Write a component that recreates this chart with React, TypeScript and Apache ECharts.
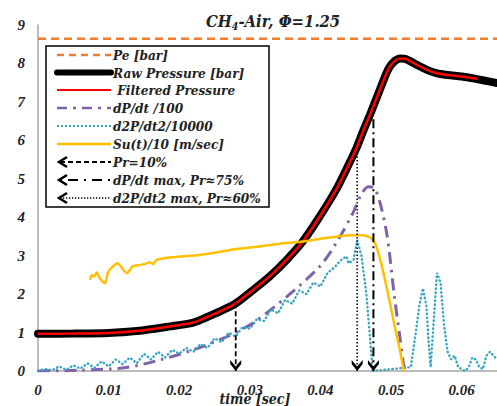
import React, { useEffect, useRef } from "react";
import * as echarts from "echarts";

// ---------- data ----------
const peTime = [0, 0.065];
const peValues = [8.64, 8.64];

const rawTime = [0, 0.005, 0.01, 0.014, 0.0187, 0.022, 0.0234, 0.026, 0.028, 0.0304, 0.0328, 0.0352, 0.0375, 0.0399, 0.0422, 0.0441, 0.0451, 0.046, 0.0472, 0.0488, 0.0497, 0.0505, 0.0513, 0.052, 0.0527, 0.0536, 0.055, 0.0564, 0.058, 0.06, 0.062, 0.065];
const rawValues = [0.97, 0.975, 0.99, 1.04, 1.16, 1.26, 1.36, 1.57, 1.76, 2.1, 2.46, 2.89, 3.37, 4.02, 4.71, 5.41, 5.8, 6.22, 6.75, 7.5, 7.88, 8.06, 8.13, 8.12, 8.06, 7.97, 7.84, 7.75, 7.7, 7.66, 7.6, 7.49];

const filteredTime = [0, 0.005, 0.01, 0.014, 0.0187, 0.022, 0.0234, 0.026, 0.028, 0.0304, 0.0328, 0.0352, 0.0375, 0.0399, 0.0422, 0.0441, 0.0451, 0.046, 0.0472, 0.0488, 0.0497, 0.0505, 0.0513, 0.052, 0.0527, 0.0536, 0.055, 0.0564, 0.058, 0.06, 0.0622];
const filteredValues = [0.97, 0.975, 0.99, 1.04, 1.16, 1.26, 1.36, 1.57, 1.76, 2.1, 2.46, 2.89, 3.37, 4.02, 4.71, 5.41, 5.8, 6.22, 6.75, 7.5, 7.88, 8.06, 8.13, 8.12, 8.06, 7.97, 7.84, 7.75, 7.7, 7.66, 7.6];

const dpdtTime = [0, 0.006, 0.0125, 0.0173, 0.022, 0.0267, 0.0281, 0.0304, 0.0352, 0.0399, 0.0422, 0.0446, 0.0458, 0.0468, 0.0476, 0.0484, 0.0493, 0.0498, 0.0505, 0.0512, 0.0517, 0.052];
const dpdtValues = [0, 0.02, 0.09, 0.29, 0.55, 0.89, 1.02, 1.24, 1.93, 2.72, 3.32, 4.11, 4.6, 4.79, 4.76, 4.4, 3.67, 3.02, 1.9, 0.95, 0.25, 0];

const d2pTime = [0, 0.001, 0.002, 0.003, 0.004, 0.005, 0.006, 0.007, 0.008, 0.009, 0.01, 0.011, 0.012, 0.013, 0.014, 0.015, 0.016, 0.017, 0.018, 0.019, 0.02, 0.021, 0.022, 0.023, 0.024, 0.025, 0.026, 0.027, 0.028, 0.029, 0.03, 0.031, 0.032, 0.033, 0.034, 0.035, 0.036, 0.037, 0.038, 0.039, 0.04, 0.041, 0.042, 0.043, 0.0437, 0.044, 0.0447, 0.0452, 0.0458, 0.0465, 0.047, 0.0474, 0.0528, 0.0535, 0.054, 0.0545, 0.055, 0.0553, 0.0556, 0.056, 0.0565, 0.057, 0.0575, 0.058, 0.0585, 0.059, 0.0595, 0.0605, 0.061, 0.0615, 0.062, 0.0625, 0.063, 0.0635, 0.064, 0.065];
const d2pValues = [0, 0.05, 0.02, 0.12, 0.03, 0.15, 0.06, 0.2, 0.08, 0.25, 0.12, 0.3, 0.18, 0.35, 0.2, 0.45, 0.3, 0.5, 0.35, 0.55, 0.45, 0.6, 0.5, 0.7, 0.6, 0.85, 0.75, 1.0, 0.9, 1.15, 1.1, 1.35, 1.3, 1.6, 1.5, 1.85, 1.75, 2.1, 2.0, 2.3, 2.2, 2.55, 2.7, 2.9, 2.98, 2.8, 2.9, 3.41, 3.0, 2.0, 0.9, 0, 0.1, 1.0, 1.7, 2.15, 1.7, 0.8, 0.1, 1.2, 2.55, 2.3, 1.2, 0.5, 0.3, 0.4, 0.1, 0, 0.1, 0.35, 0.3, 0.1, 0.05, 0.4, 0.5, 0.3];

const suTime = [0.0074, 0.0076, 0.008, 0.0083, 0.0088, 0.0095, 0.0099, 0.0105, 0.0113, 0.012, 0.0126, 0.0134, 0.0145, 0.0154, 0.0158, 0.0163, 0.0168, 0.0187, 0.0229, 0.0253, 0.0272, 0.03, 0.0321, 0.0342, 0.0375, 0.0413, 0.0441, 0.046, 0.047, 0.0478, 0.0488, 0.0498, 0.0507, 0.0513, 0.0518];
const suValues = [2.37, 2.5, 2.46, 2.56, 2.4, 2.28, 2.56, 2.7, 2.8, 2.65, 2.54, 2.72, 2.76, 2.8, 2.83, 2.78, 2.89, 2.95, 3.02, 3.08, 3.15, 3.21, 3.26, 3.31, 3.37, 3.47, 3.53, 3.53, 3.48, 3.3, 2.65, 1.8, 1.0, 0.5, 0];

const arrowPr10Time = [0.028, 0.028];
const arrowPr10Values = [1.76, 0];
const arrowD2pTime = [0.0452, 0.0452];
const arrowD2pValues = [5.58, 0];
const arrowDpdtTime = [0.0475, 0.0475];
const arrowDpdtValues = [6.55, 0];

const yTicks = [0, 1, 2, 3, 4, 5, 6, 7, 8, 9];
const xTickStep = 0.01;

const legendNames = [
  "Pe [bar]",
  "Raw Pressure [bar]",
  " Filtered Pressure",
  "dP/dt /100",
  "d2P/dt2/10000",
  "Su(t)/10 [m/sec]",
  "Pr=10%",
  "dP/dt max, Pr\u224875%",
  "d2P/dt2 max, Pr\u224860%",
];

// ---------- helpers ----------
const zip = (t: number[], v: number[]) => t.map((x, i) => [x, v[i]]);
const FONT = "'Liberation Serif', 'DejaVu Serif', serif";
const LFONT = "'DejaVu Serif Condensed', 'Liberation Serif', serif";
const CHEVRON = "path://M0,0L5,6L10,0L10,3.6L5,10L0,3.6Z";

const arrowData = (t: number[], v: number[]) => [
  { value: [t[0], v[0]], symbol: "none" },
  { value: [t[1], v[1]] },
];

export default function App() {
  const ref = useRef<HTMLDivElement>(null);

  useEffect(() => {
    document.body.style.margin = "0";
    if (!ref.current) return;
    const chart = echarts.init(ref.current, undefined, { renderer: "svg" });

    const legendX0 = 57;
    const legendX1 = 111;
    const ys = [55, 72.5, 90, 108, 126, 144, 162, 180, 198];

    const legendGraphics: any[] = [
      {
        type: "rect",
        shape: { x: 46, y: 46, width: 223, height: 161 },
        style: { fill: "#fff", stroke: "#000", lineWidth: 1.5 },
        z: 100,
      },
    ];
    const sample = (i: number, style: any, x0 = legendX0) => ({
      type: "line",
      shape: { x1: x0, y1: ys[i], x2: legendX1, y2: ys[i] },
      style: { fill: null, ...style },
      z: 101,
    });
    legendGraphics.push(sample(0, { stroke: "#ED7D31", lineWidth: 2.5, lineDash: [7, 5] }));
    legendGraphics.push(sample(1, { stroke: "#000", lineWidth: 6, lineCap: "round" }));
    legendGraphics.push(sample(2, { stroke: "#FF0000", lineWidth: 2 }));
    legendGraphics.push(sample(3, { stroke: "#7F62A8", lineWidth: 2.5, lineDash: [10, 6, 3, 6] }));
    legendGraphics.push(sample(4, { stroke: "#37A6C4", lineWidth: 2, lineDash: [2, 2] }));
    legendGraphics.push(sample(5, { stroke: "#FFC000", lineWidth: 2.5 }));
    legendGraphics.push(sample(6, { stroke: "#000", lineWidth: 2, lineDash: [5, 3] }, 60));
    legendGraphics.push(sample(7, { stroke: "#000", lineWidth: 2, lineDash: [2, 6, 10, 6] }, 60));
    legendGraphics.push(sample(8, { stroke: "#000", lineWidth: 1.3, lineDash: [1.3, 1.7] }, 60));
    [6, 7, 8].forEach((i) => {
      legendGraphics.push({
        type: "polyline",
        shape: { points: [[67, ys[i] - 5], [59, ys[i]], [67, ys[i] + 5]] },
        style: { fill: null, stroke: "#000", lineWidth: 2.5 },
        z: 101,
      });
    });
    legendNames.forEach((name, i) => {
      legendGraphics.push({
        type: "text",
        x: 113,
        y: ys[i],
        style: {
          text: name,
          fill: "#222",
          font: `italic bold 13.5px ${LFONT}`,
          verticalAlign: "middle",
        },
        z: 101,
      });
    });
    legendGraphics.push({
      type: "text",
      x: 255,
      y: 399,
      style: {
        text: "time [sec]",
        fill: "#222",
        font: `italic bold 14px ${LFONT}`,
        align: "center",
        verticalAlign: "middle",
      },
      z: 50,
    });

    const option: any = {
      animation: false,
      backgroundColor: "#fff",
      title: {
        text: "{a|CH}{s|4}{a|-Air, \u03A6=1.25}",
        left: 201,
        top: 4,
        textStyle: {
          rich: {
            a: { fontFamily: LFONT, fontStyle: "italic", fontWeight: "bold", fontSize: 16.5, color: "#222", lineHeight: 24 },
            s: { fontFamily: LFONT, fontStyle: "italic", fontWeight: "bold", fontSize: 10.5, color: "#222", lineHeight: 24, padding: [9, 0, 0, 0] },
          },
        },
      },
      grid: { left: 38, right: 0, top: 25, bottom: 35, containLabel: false },
      xAxis: {
        type: "value",
        min: 0,
        max: 0.065,
        interval: xTickStep,
        splitLine: { show: false },
        axisTick: { show: false },
        axisLine: { show: true, lineStyle: { color: "#A6A6A6", width: 1.5 } },
        axisLabel: {
          margin: 11,
          color: "#222",
          fontFamily: FONT,
          fontStyle: "italic",
          fontWeight: "bold",
          fontSize: 15,
          showMaxLabel: false,
          formatter: (v: number) => {
            const k = v / xTickStep;
            return Math.abs(k - Math.round(k)) < 1e-6 ? String(+v.toFixed(2)) : "";
          },
        },
      },
      yAxis: {
        type: "value",
        min: yTicks[0],
        max: yTicks[yTicks.length - 1],
        interval: 1,
        splitLine: { show: false },
        axisTick: { show: false },
        axisLine: { show: true, lineStyle: { color: "#A6A6A6", width: 1.5 } },
        axisLabel: {
          margin: 13,
          color: "#222",
          fontFamily: FONT,
          fontStyle: "italic",
          fontWeight: "bold",
          fontSize: 15,
        },
      },
      graphic: legendGraphics,
      series: [
        {
          name: legendNames[0],
          type: "line",
          data: zip(peTime, peValues),
          symbol: "none",
          lineStyle: { color: "#ED7D31", width: 2.5, type: [8, 5] },
          z: 2,
        },
        {
          name: legendNames[1],
          type: "line",
          data: zip(rawTime, rawValues),
          symbol: "none",
          smooth: 0.3,
          lineStyle: { color: "#000", width: 8, cap: "round" },
          z: 3,
        },
        {
          name: legendNames[2],
          type: "line",
          data: zip(filteredTime, filteredValues),
          symbol: "none",
          smooth: 0.3,
          lineStyle: { color: "#FF0000", width: 2.5 },
          z: 4,
        },
        {
          name: legendNames[3],
          type: "line",
          data: zip(dpdtTime, dpdtValues),
          symbol: "none",
          smooth: 0.3,
          lineStyle: { color: "#7F62A8", width: 3, type: [12, 6, 2.5, 6] },
          z: 5,
        },
        {
          name: legendNames[4],
          type: "line",
          data: zip(d2pTime, d2pValues),
          symbol: "none",
          lineStyle: { color: "#37A6C4", width: 2.4, type: [0.5, 3.5], cap: "round" },
          z: 5,
        },
        {
          name: legendNames[5],
          type: "line",
          data: zip(suTime, suValues),
          symbol: "none",
          smooth: 0.2,
          lineStyle: { color: "#FFC000", width: 2.5 },
          z: 6,
        },
        {
          name: legendNames[6],
          type: "line",
          data: arrowData(arrowPr10Time, arrowPr10Values),
          symbol: CHEVRON,
          symbolSize: [11, 11],
          symbolOffset: [0, "-50%"],
          itemStyle: { color: "#000" },
          lineStyle: { color: "#000", width: 1.8, type: [5, 3] },
          z: 7,
        },
        {
          name: legendNames[7],
          type: "line",
          data: arrowData(arrowDpdtTime, arrowDpdtValues),
          symbol: CHEVRON,
          symbolSize: [11, 11],
          symbolOffset: [0, "-50%"],
          itemStyle: { color: "#000" },
          lineStyle: { color: "#000", width: 2, type: [9, 4, 2, 4] },
          z: 7,
        },
        {
          name: legendNames[8],
          type: "line",
          data: arrowData(arrowD2pTime, arrowD2pValues),
          symbol: CHEVRON,
          symbolSize: [11, 11],
          symbolOffset: [0, "-50%"],
          itemStyle: { color: "#000" },
          lineStyle: { color: "#000", width: 1.5, type: [1.5, 2] },
          z: 7,
        },
      ],
    };
    chart.setOption(option);
    return () => chart.dispose();
  }, []);

  return (
    <div
      ref={ref}
      style={{ position: "absolute", left: 0, top: 0, width: 497, height: 406 }}
    />
  );
}
